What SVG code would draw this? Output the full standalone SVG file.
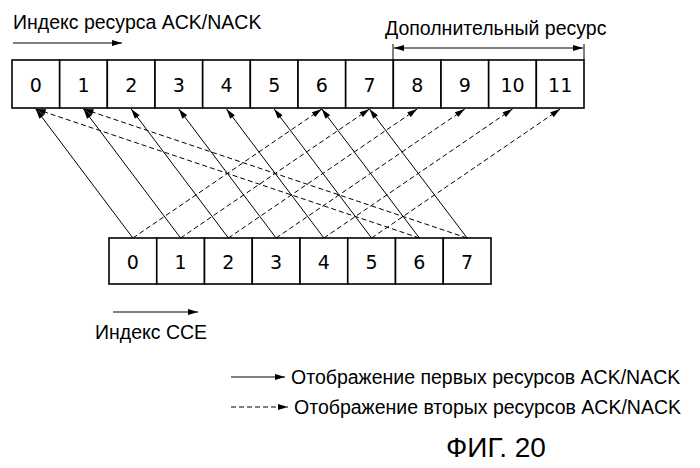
<svg xmlns="http://www.w3.org/2000/svg" width="700" height="468" viewBox="0 0 700 468">
<defs>
<marker id="ah" viewBox="0 0 10 6" refX="10" refY="3" markerWidth="12" markerHeight="6" orient="auto" markerUnits="userSpaceOnUse"><path d="M0,0 L10,3 L0,6 z" fill="#000"/></marker>
<marker id="as" viewBox="0 0 10 6" refX="0" refY="3" markerWidth="12" markerHeight="6" orient="auto" markerUnits="userSpaceOnUse"><path d="M10,0 L0,3 L10,6 z" fill="#000"/></marker>
</defs>
<style>
rect{fill:#fff;stroke:#000;stroke-width:1.6}
.n{font-family:"DejaVu Sans",sans-serif;font-size:19px;text-anchor:middle}
.t{font-family:"Liberation Sans",Arial,sans-serif;font-size:19.5px}
.s{stroke:#000;stroke-width:1;fill:none;marker-end:url(#ah)}
.d{stroke:#000;stroke-width:1;fill:none;stroke-dasharray:5,3;marker-end:url(#ah)}
</style>
<rect width="700" height="468" style="fill:#fff;stroke:none"/>
<text class="t" x="13" y="29">Индекс ресурса ACK/NACK</text>
<line x1="13" y1="43" x2="122" y2="43" class="s"/>
<text class="t" x="385" y="35">Дополнительный ресурс</text>
<line x1="394" y1="48" x2="583" y2="48" class="s" style="marker-start:url(#as)"/>
<line x1="393" y1="44" x2="393" y2="60" stroke="#000"/>
<line x1="584" y1="44" x2="584" y2="60" stroke="#000"/>
<g id="top">
<rect x="12" y="60" width="47.67" height="48"/><rect x="59.67" y="60" width="47.67" height="48"/><rect x="107.33" y="60" width="47.67" height="48"/><rect x="155" y="60" width="47.67" height="48"/><rect x="202.67" y="60" width="47.67" height="48"/><rect x="250.33" y="60" width="47.67" height="48"/><rect x="298" y="60" width="47.67" height="48"/><rect x="345.67" y="60" width="47.67" height="48"/><rect x="393.33" y="60" width="47.67" height="48"/><rect x="441" y="60" width="47.67" height="48"/><rect x="488.67" y="60" width="47.67" height="48"/><rect x="536.33" y="60" width="47.67" height="48"/>
<text class="n" x="35.8" y="92">0</text><text class="n" x="83.5" y="92">1</text><text class="n" x="131.2" y="92">2</text><text class="n" x="178.8" y="92">3</text><text class="n" x="226.5" y="92">4</text><text class="n" x="274.2" y="92">5</text><text class="n" x="321.8" y="92">6</text><text class="n" x="369.5" y="92">7</text><text class="n" x="417.2" y="92">8</text><text class="n" x="464.8" y="92">9</text><text class="n" x="512.5" y="92">10</text><text class="n" x="560.2" y="92">11</text>
</g>
<g id="bottom">
<rect x="109" y="238" width="47.75" height="46"/><rect x="156.75" y="238" width="47.75" height="46"/><rect x="204.5" y="238" width="47.75" height="46"/><rect x="252.25" y="238" width="47.75" height="46"/><rect x="300" y="238" width="47.75" height="46"/><rect x="347.75" y="238" width="47.75" height="46"/><rect x="395.5" y="238" width="47.75" height="46"/><rect x="443.25" y="238" width="47.75" height="46"/>
<text class="n" x="132.9" y="269">0</text><text class="n" x="180.6" y="269">1</text><text class="n" x="228.4" y="269">2</text><text class="n" x="276.1" y="269">3</text><text class="n" x="323.9" y="269">4</text><text class="n" x="371.6" y="269">5</text><text class="n" x="419.4" y="269">6</text><text class="n" x="467.1" y="269">7</text>
</g>
<g id="connectors">
<line x1="132.9" y1="238" x2="35.8" y2="109" class="s"/>
<line x1="180.6" y1="238" x2="83.5" y2="109" class="s"/>
<line x1="228.4" y1="238" x2="131.2" y2="109" class="s"/>
<line x1="276.1" y1="238" x2="178.8" y2="109" class="s"/>
<line x1="323.9" y1="238" x2="226.5" y2="109" class="s"/>
<line x1="371.6" y1="238" x2="274.2" y2="109" class="s"/>
<line x1="419.4" y1="238" x2="321.8" y2="109" class="s"/>
<line x1="467.1" y1="238" x2="369.5" y2="109" class="s"/>
<line x1="132.9" y1="238" x2="321.8" y2="109" class="d"/>
<line x1="180.6" y1="238" x2="369.5" y2="109" class="d"/>
<line x1="228.4" y1="238" x2="417.2" y2="109" class="d"/>
<line x1="276.1" y1="238" x2="464.8" y2="109" class="d"/>
<line x1="323.9" y1="238" x2="512.5" y2="109" class="d"/>
<line x1="371.6" y1="238" x2="560.2" y2="109" class="d"/>
<line x1="419.4" y1="238" x2="35.8" y2="109" class="d"/>
<line x1="467.1" y1="238" x2="83.5" y2="109" class="d"/>
</g>
<line x1="113" y1="312" x2="198" y2="312" class="s"/>
<text class="t" x="95" y="339">Индекс CCE</text>
<g id="legend">
<line x1="231" y1="377" x2="285" y2="377" class="s"/>
<text class="t" x="291" y="384">Отображение первых ресурсов ACK/NACK</text>
<line x1="231" y1="407" x2="288" y2="407" class="d"/>
<text class="t" x="294" y="414">Отображение вторых ресурсов ACK/NACK</text>
</g>
<text class="t" x="496" y="457" style="font-size:28px;text-anchor:middle">ФИГ. 20</text>
</svg>
